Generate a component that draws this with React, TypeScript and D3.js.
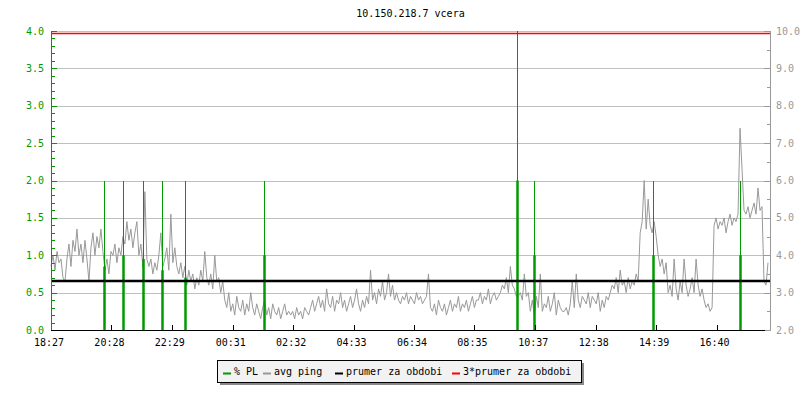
import React from "react";
import * as d3 from "d3";

// ---------- data ----------
const title = "10.150.218.7 vcera";
const startTime = new Date(2000, 0, 1, 18, 27);
const endTime = new Date(2000, 0, 2, 18, 27);
const sampleMinutes = 4;

const xTickLabels = ["18:27", "20:28", "22:29", "00:31", "02:32", "04:33", "06:34", "08:35", "10:37", "12:38", "14:39", "16:40"];
const leftTicks = [0, 0.5, 1, 1.5, 2, 2.5, 3, 3.5, 4];
const rightTicks = [2, 3, 4, 5, 6, 7, 8, 9, 10];

// avg ping (ms, right axis), one sample every 4 minutes starting 18:27
const avgPing = [
  3.7, 4.0, 3.6, 4.1, 3.8, 3.9,
  3.4, 3.3,
  3.9, 4.3, 3.7, 4.4, 4.1, 4.7, 4.0, 4.3, 3.8,
  4.4, 3.9, 3.3, 4.2, 4.6, 4.0, 4.5, 4.2, 4.7, 4.1,
  3.6, 3.9, 3.5,
  4.1, 4.0, 4.3, 3.8, 4.2, 4.0,
  4.5, 4.3, 4.9, 4.4, 4.7, 4.2, 4.6, 4.9,
  4.0, 4.3, 3.7, 5.7, 3.9,
  3.7, 3.9, 3.5, 3.8, 3.6, 4.0, 4.6, 3.7,
  3.9, 4.2, 3.6, 5.1, 3.8, 4.2, 3.7,
  3.5, 3.8, 3.4, 3.7, 3.2, 3.6,
  3.3, 3.5, 3.1, 3.4, 3.2, 3.6, 3.3, 4.1, 3.4,
  3.2, 3.5, 3.1, 4.0, 3.3, 3.4, 3.0, 3.3,
  2.8, 2.6, 3.0, 2.5, 2.7, 2.4, 2.9, 2.6, 2.5, 2.8, 2.4, 2.7, 2.5, 3.0, 2.6, 2.4, 2.7, 2.5, 2.3, 2.6, 2.8, 2.4, 2.6, 2.3, 2.7, 2.5, 2.4, 2.6, 2.3, 2.5, 2.7, 2.4, 2.5,
  2.4, 2.5, 2.3, 2.6, 2.4, 2.5, 2.3, 2.6, 2.5, 2.4,
  2.6, 2.8, 2.5, 2.7, 2.9, 2.6, 2.8, 2.5, 3.1, 2.7, 2.6, 2.9, 2.5, 2.8, 2.7, 3.0, 2.6, 2.8, 2.5, 2.7, 2.9, 2.6, 2.8, 3.1, 2.7, 2.5, 2.8, 2.6, 2.9, 2.7,
  3.6, 2.8, 3.0, 2.7, 3.1, 2.9, 3.3, 2.8, 3.0, 3.5, 2.9, 3.2, 2.8, 3.0,
  2.8, 2.7, 2.9, 2.8, 3.0, 2.7, 2.9, 2.8, 2.7, 3.0, 2.8, 2.9, 2.7, 2.8, 2.9, 3.5,
  2.6, 2.5, 2.7, 2.4, 2.8, 2.6, 2.5, 2.7, 2.4, 2.6, 2.8, 2.5, 2.7, 2.6, 2.9, 2.5, 2.7, 2.6, 2.8, 2.5, 2.7, 2.9, 2.6, 2.8,
  2.8, 3.0, 2.7, 2.9, 2.8, 3.1, 2.7, 2.9, 3.0, 2.8, 2.9,
  3.0, 3.2, 3.1, 3.4, 3.0, 3.7, 3.2, 3.1, 2.9,
  2.9, 3.0, 2.8, 3.5, 2.9, 3.0,
  2.5, 2.8, 2.4, 2.9, 2.6, 3.5, 2.5, 2.7, 2.6, 2.9, 2.5, 2.7, 3.0, 2.4, 2.8, 2.6, 2.5,
  2.5, 2.6, 2.4, 2.7, 3.3, 2.6, 3.5, 2.8, 2.6, 2.9,
  2.8, 2.7, 3.0, 2.6, 2.9, 2.8, 2.7, 3.0, 2.5, 2.8, 2.6, 2.9, 2.8,
  3.0, 3.2, 3.1, 3.4, 3.0, 3.6, 3.2, 3.3, 3.0, 3.4, 3.1, 3.3, 3.2, 3.5, 3.3,
  4.6, 4.9, 6.0, 4.7, 5.5, 4.8, 4.6, 4.9, 4.5,
  4.0, 3.7, 3.9, 3.5, 3.8,
  3.0, 3.2, 2.9, 3.9, 3.1, 2.8, 3.3, 3.0, 3.9, 3.2, 2.9, 3.1, 3.4, 3.0, 3.9, 3.2, 2.9, 3.1, 2.8, 2.6, 2.7, 2.5, 2.6,
  4.8, 5.0, 4.7, 4.9, 4.8, 5.0, 4.6, 4.9, 5.1, 4.8, 5.0, 4.9, 5.1,
  7.4, 6.3,
  5.2, 5.1, 5.3, 5.0, 5.2, 5.4, 5.1, 5.8, 5.2, 5.3,
  3.3, 3.2, 3.8,
];

// % PL events (left axis)
const plTimes = ["20:14", "20:52", "21:32", "22:10", "22:55", "01:34", "10:00", "10:34", "14:32", "17:27"];
const plPeak = [2, 2, 2, 2, 2, 2, 4, 2, 2, 2];
const plBase = [0.85, 1.0, 0.95, 0.8, 0.7, 1.0, 2.0, 1.0, 1.0, 1.0];

const prumer = 3.31; // ms average

const legendItems = ["% PL", "avg ping", "prumer za obdobi", "3*prumer za obdobi"];
const legendColors = ["#009900", "#999999", "#000000", "#ff0000"];

// ---------- helpers ----------
function parseHM(s: string): Date {
  const [h, m] = s.split(":").map(Number);
  const day = h > 18 || (h === 18 && m >= 27) ? 1 : 2;
  return new Date(2000, 0, day, h, m);
}

const FONT = "'DejaVu Sans Mono', monospace";
const GREEN = "#009900";
const GRAY = "#999999";

export default function App() {
  const L = 51, R = 770, T = 31, B = 330;
  const x = d3.scaleTime().domain([startTime, endTime]).range([L, R]);
  const yL = d3.scaleLinear().domain([0, 4]).range([B, T]);
  const yR = d3.scaleLinear().domain([2, 10]).range([B, T]);
  const crisp = (v: number) => Math.round(v) + 0.5;

  const pingPts: [number, number][] = avgPing.map((v, i) => [
    x(new Date(startTime.getTime() + i * sampleMinutes * 60000)),
    yR(v),
  ]);
  const pingPath = d3.line().curve(d3.curveLinear)(pingPts) || "";

  const leftMinor = d3.range(0, 4.0001, 0.1);
  const rightMinor = d3.range(2.5, 10, 1);

  const legendX = [223, 263, 335, 452];

  return (
    <svg
      width={800}
      height={400}
      style={{ position: "fixed", left: 0, top: 0, background: "#fff" }}
      fontFamily={FONT}
      fontSize={10}
    >
      <rect x={0} y={0} width={800} height={400} fill="#fff" />
      <text x={(L + R) / 2} y={17} textAnchor="middle" fill="#000">{title}</text>

      {/* grid */}
      <g shapeRendering="crispEdges">
        {leftTicks.filter((t) => t > 0).map((t) => (
          <line key={t} x1={L} x2={R} y1={crisp(yL(t))} y2={crisp(yL(t))} stroke="#c0c0c0" />
        ))}
      </g>

      {/* avg ping */}
      <path d={pingPath} fill="none" stroke={GRAY} strokeWidth={1} />

      {/* % PL */}
      <g>
        {plTimes.map((t, i) => {
          const px = Math.round(x(parseHM(t))) + 0.5;
          return (
            <g key={t}>
              <line x1={px} x2={px} y1={yL(0)} y2={yL(plPeak[i])} stroke={GREEN} strokeWidth={1} shapeRendering="crispEdges" />
              <line x1={px} x2={px} y1={yL(0)} y2={yL(plBase[i])} stroke={GREEN} strokeWidth={2.5} />
            </g>
          );
        })}
      </g>

      {/* averages */}
      <line x1={L} x2={R} y1={yR(prumer)} y2={yR(prumer)} stroke="#000" strokeWidth={2.5} />
      <line x1={L} x2={R} y1={yR(3 * prumer)} y2={yR(3 * prumer)} stroke="#ff0000" strokeWidth={1.5} />

      {/* left axis */}
      <g shapeRendering="crispEdges">
        <line x1={L + 0.5} x2={L + 0.5} y1={T} y2={B} stroke={GREEN} />
        {leftMinor.map((t) => (
          <line key={t} x1={L} x2={L + 4} y1={crisp(yL(t))} y2={crisp(yL(t))} stroke={GREEN} />
        ))}
        {leftTicks.map((t) => (
          <line key={"M" + t} x1={L} x2={L + 6} y1={crisp(yL(t))} y2={crisp(yL(t))} stroke={GREEN} />
        ))}
      </g>
      {leftTicks.map((t) => (
        <text key={"l" + t} x={44} y={yL(t) + 3.5} textAnchor="end" fill={GREEN}>{t.toFixed(1)}</text>
      ))}

      {/* right axis */}
      <g shapeRendering="crispEdges">
        <line x1={R + 0.5} x2={R + 0.5} y1={T} y2={B + 1} stroke={GRAY} />
        {rightMinor.map((t) => (
          <line key={t} x1={R - 3} x2={R} y1={crisp(yR(t))} y2={crisp(yR(t))} stroke={GRAY} />
        ))}
        {rightTicks.map((t) => (
          <line key={"M" + t} x1={R - 6} x2={R} y1={crisp(yR(t))} y2={crisp(yR(t))} stroke={GRAY} />
        ))}
      </g>
      {rightTicks.map((t) => (
        <text key={"r" + t} x={776} y={yR(t) + 3.5} textAnchor="start" fill={GRAY}>{t.toFixed(1)}</text>
      ))}

      {/* x axis */}
      <g shapeRendering="crispEdges">
        <line x1={L} x2={R - 5} y1={B + 0.5} y2={B + 0.5} stroke="#000" />
        {xTickLabels.slice(1).map((s) => {
          const px = Math.round(x(parseHM(s))) + 0.5;
          return <line key={s} x1={px} x2={px} y1={B} y2={B - 5} stroke="#000" />;
        })}
      </g>
      {xTickLabels.map((s) => (
        <text key={"x" + s} x={x(parseHM(s)) - 2} y={346} textAnchor="middle" fill="#000">{s}</text>
      ))}

      {/* legend */}
      <g>
        <rect x={220} y={363} width={364} height={22} fill="#888" />
        <rect x={217.5} y={360.5} width={364} height={22} fill="#f2f2f2" stroke="#000" shapeRendering="crispEdges" />
        {legendItems.map((s, i) => (
          <g key={s}>
            <line x1={legendX[i]} x2={legendX[i] + 8} y1={373.5} y2={373.5} stroke={legendColors[i]} strokeWidth={2} />
            <text x={legendX[i] + 11} y={375} fill="#000">{s}</text>
          </g>
        ))}
      </g>
    </svg>
  );
}
